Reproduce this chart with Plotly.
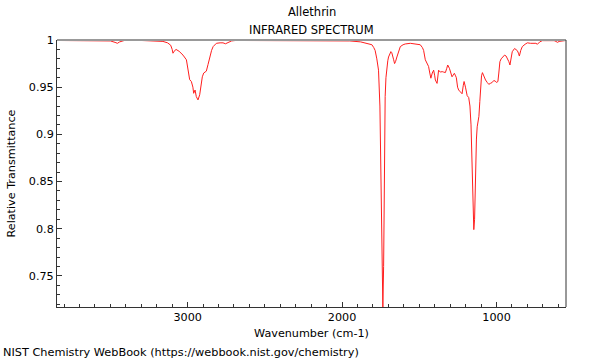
import plotly.graph_objects as go

wavenumber = [
    3846, 3700, 3560, 3500, 3470, 3455, 3440, 3410, 3300, 3200, 3160, 3130, 3110, 3100, 3095,
    3088, 3075, 3055, 3030, 3008, 2995, 2987, 2976, 2966, 2961, 2952, 2944, 2933, 2922, 2912,
    2905, 2896, 2879, 2868, 2857, 2845, 2835, 2814, 2790, 2771, 2755, 2749, 2735, 2716, 2690,
    2400, 2100, 1950, 1880, 1861, 1830, 1807, 1795, 1786, 1775, 1764, 1755, 1748, 1742, 1736,
    1731, 1727, 1721, 1716, 1710, 1704, 1699, 1690, 1684, 1678, 1673, 1666, 1660, 1654, 1645,
    1635, 1623, 1605, 1591, 1558, 1520, 1494, 1480, 1472, 1461, 1450, 1440, 1432, 1425, 1416,
    1407, 1400, 1396, 1385, 1378, 1375, 1364, 1352, 1342, 1331, 1322, 1316, 1305, 1295, 1288,
    1280, 1273, 1265, 1260, 1252, 1245, 1234, 1223, 1215, 1210, 1201, 1190, 1180, 1172, 1165,
    1158, 1152, 1147, 1142, 1136, 1130, 1125, 1114, 1108, 1104, 1097, 1091, 1082, 1071, 1060,
    1050, 1040, 1028, 1018, 1008, 1000, 991, 985, 978, 970, 963, 948, 938, 930, 920,
    913, 905, 898, 883, 872, 865, 858, 852, 843, 833, 815, 800, 780, 757, 745,
    735, 720, 703, 670, 627, 615, 605, 595, 573, 550,
]
transmittance = [
    0.9995, 0.9995, 0.9995, 0.9990, 0.9975, 0.9965, 0.9980, 0.9995, 0.9995, 0.9993, 0.9985, 0.997, 0.9945, 0.990, 0.986,
    0.988, 0.990, 0.988, 0.984, 0.979, 0.968, 0.958, 0.956, 0.950, 0.9435, 0.947, 0.940, 0.9365, 0.942, 0.955,
    0.961, 0.965, 0.967, 0.974, 0.982, 0.989, 0.993, 0.9965, 0.997, 0.997, 0.996, 0.9965, 0.998, 0.999, 0.9995,
    0.9995, 0.9993, 0.9990, 0.998, 0.997, 0.9962, 0.995, 0.992, 0.989, 0.980, 0.968, 0.930, 0.85, 0.76, 0.717,
    0.76, 0.86, 0.94, 0.960, 0.972, 0.978, 0.982, 0.9865, 0.9877, 0.9865, 0.984, 0.979, 0.975, 0.977, 0.982,
    0.988, 0.993, 0.995, 0.9958, 0.9965, 0.996, 0.995, 0.992, 0.989, 0.979, 0.975, 0.972, 0.965, 0.9595, 0.965,
    0.968, 0.962, 0.9576, 0.954, 0.962, 0.968, 0.966, 0.9665, 0.966, 0.9655, 0.970, 0.9735, 0.970, 0.964, 0.961,
    0.963, 0.9647, 0.962, 0.960, 0.950, 0.947, 0.945, 0.943, 0.952, 0.956, 0.950, 0.941, 0.939, 0.930, 0.910,
    0.852, 0.81, 0.799, 0.81, 0.862, 0.895, 0.908, 0.919, 0.935, 0.9506, 0.962, 0.9654, 0.961, 0.9576, 0.955,
    0.953, 0.954, 0.955, 0.957, 0.9565, 0.955, 0.956, 0.965, 0.977, 0.980, 0.9817, 0.984, 0.983, 0.9806, 0.977,
    0.9735, 0.982, 0.9876, 0.991, 0.9895, 0.9887, 0.986, 0.983, 0.989, 0.993, 0.9955, 0.997, 0.9965, 0.997, 0.9965,
    0.9955, 0.998, 0.9993, 0.9993, 0.9993, 0.9985, 0.9975, 0.9985, 0.9993, 0.9995,
]

x_tick_vals = [3000, 2000, 1000]
x_tick_text = ["3000", "2000", "1000"]
y_tick_vals = [0.75, 0.8, 0.85, 0.9, 0.95, 1.0]
y_tick_text = ["0.75", "0.8", "0.85", "0.9", "0.95", "1"]

FONT = "DejaVu Sans"
FS = 11.2

fig = go.Figure()
fig.add_trace(go.Scatter(
    x=wavenumber, y=transmittance, mode="lines",
    line=dict(color="rgb(255,30,30)", width=1),
    hoverinfo="skip", showlegend=False,
))

fig.update_layout(
    width=600, height=360,
    margin=dict(l=57, r=34, t=40, b=53),
    paper_bgcolor="white", plot_bgcolor="white",
    font=dict(family=FONT, size=FS, color="black"),
    xaxis=dict(
        range=[3846, 550], autorange=False,
        tickvals=x_tick_vals, ticktext=x_tick_text,
        ticks="inside", ticklen=5, tickwidth=1, tickcolor="#333",
        minor=dict(dtick=100, tick0=0, ticks="inside", ticklen=3, tickwidth=1, tickcolor="#333"),
        showline=True, linecolor="#333", linewidth=1,
        showgrid=False, zeroline=False,
        title=dict(text="Wavenumber (cm-1)", standoff=5, font=dict(size=FS)),
    ),
    yaxis=dict(
        range=[0.717, 1.0], autorange=False,
        tickvals=y_tick_vals, ticktext=y_tick_text,
        ticks="inside", ticklen=5, tickwidth=1, tickcolor="#333",
        minor=dict(dtick=0.01, tick0=0, ticks="inside", ticklen=3, tickwidth=1, tickcolor="#333"),
        showline=True, linecolor="#333", linewidth=1,
        showgrid=False, zeroline=False,
        title=dict(text="Relative Transmittance", standoff=10, font=dict(size=FS)),
    ),
    shapes=[
        dict(type="line", xref="paper", yref="paper", x0=0, x1=1, y0=1, y1=1,
             line=dict(color="#999", width=2)),
        dict(type="line", xref="paper", yref="paper", x0=1, x1=1, y0=0, y1=1,
             line=dict(color="#333", width=1)),
    ],
    annotations=[
        dict(text="Allethrin", xref="paper", yref="paper", x=0.5, y=1, yshift=28,
             showarrow=False, xanchor="center", yanchor="middle", font=dict(size=11.5)),
        dict(text="INFRARED SPECTRUM", xref="paper", yref="paper", x=0.5, y=1, yshift=10,
             showarrow=False, xanchor="center", yanchor="middle", font=dict(size=11.5)),
        dict(text="NIST Chemistry WebBook (https://webbook.nist.gov/chemistry)",
             xref="paper", yref="paper", x=0, y=0, xshift=-56, yshift=-45,
             showarrow=False, xanchor="left", yanchor="middle", font=dict(size=11.3)),
    ],
)

fig.write_html("out.html", config={"displayModeBar": False},
               post_script="document.body.style.margin='0';")
